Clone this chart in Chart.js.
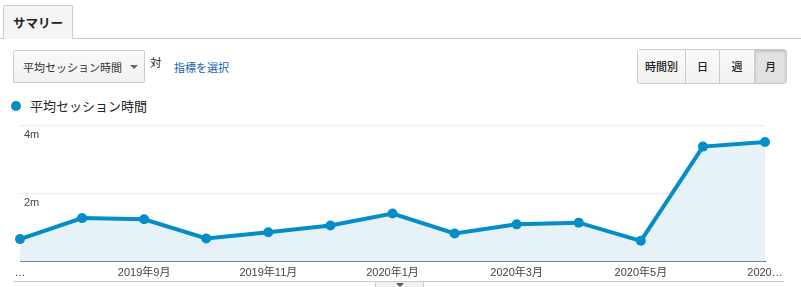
<!DOCTYPE html>
<html>
<head>
<meta charset="utf-8">
<script src="https://cdn.jsdelivr.net/npm/chart.js@4"></script>
<style>
  html, body { margin: 0; padding: 0; background: #fff; }
  body { width: 801px; height: 287px; position: relative; overflow: hidden;
         font-family: "Noto Sans CJK JP", "Noto Sans", sans-serif; color: #333; }
  .topline { position: absolute; left: 0; top: 38px; width: 801px; height: 1px; background: #ccc; }
  .tab { position: absolute; left: 3px; top: 5px; width: 68px; height: 33px; background: #f5f5f5;
         border: 1px solid #ccc; border-bottom: none; border-radius: 2px 2px 0 0;
         font-size: 12.5px; font-weight: bold; line-height: 33px; text-align: center; color: #222; z-index: 2; }
  .dropdown { position: absolute; left: 13px; top: 50px; width: 132px; height: 33px;
              border: 1px solid #ccc; border-radius: 2px; background: linear-gradient(#fafafa, #f1f1f1);
              font-size: 11px; line-height: 33px; color: #333; box-sizing: border-box; padding-left: 9px; }
  .dropdown .arrow { position: absolute; left: 116px; top: 14px; width: 0; height: 0;
                     border-left: 4px solid transparent; border-right: 4px solid transparent; border-top: 4px solid #666; }
  .vs { position: absolute; left: 150px; top: 54px; font-size: 11.5px; color: #222; }
  .link { position: absolute; left: 174px; top: 59px; font-size: 11px; color: #1a62b0; }
  .btns { position: absolute; left: 637px; top: 49px; height: 35px; display: flex;
          border: 1px solid #ccc; border-radius: 3px; box-sizing: border-box; overflow: hidden; }
  .btns div { height: 33px; line-height: 33px; text-align: center; font-size: 11px; font-weight: 500; color: #222;
              background: linear-gradient(#fbfbfb, #f1f1f1); border-right: 1px solid #ccc; }
  .btns div:last-child { border-right: none; background: #e2e2e2; box-shadow: inset 0 1px 3px rgba(0,0,0,0.2); }
  .legend { position: absolute; left: 11px; top: 96px; font-size: 13px; color: #222; line-height: 20px; }
  .legend .dot { display: inline-block; width: 10px; height: 10px; border-radius: 50%; background: #058dc7;
                 margin-right: 9px; vertical-align: -0px; }
  .chartbox { position: absolute; left: 0; top: 115px; width: 801px; height: 170px; }
  .bottomline { position: absolute; left: 13px; top: 281px; width: 771px; height: 1px; background: #ccc; }
  .handle { position: absolute; left: 375px; top: 281px; width: 49px; height: 8px; background: #f1f1f1;
            border: 1px solid #ccc; box-sizing: border-box; }
  .handle .arrow { position: absolute; left: 20px; top: 1px; width: 0; height: 0;
                   border-left: 4px solid transparent; border-right: 4px solid transparent; border-top: 4px solid #555; }
</style>
</head>
<body>
<div class="topline"></div>
<div class="tab">サマリー</div>
<div class="dropdown">平均セッション時間<span class="arrow"></span></div>
<div class="vs">対</div>
<div class="link">指標を選択</div>
<div class="btns"><div style="width:47px">時間別</div><div style="width:33px">日</div><div style="width:34px">週</div><div style="width:31px">月</div></div>
<div class="legend"><span class="dot"></span>平均セッション時間</div>
<div class="chartbox"><canvas id="c" width="801" height="170"></canvas></div>
<div class="bottomline"></div>
<div class="handle"><span class="arrow"></span></div>
<script>
const categories = ['2019年7月','2019年8月','2019年9月','2019年10月','2019年11月','2019年12月','2020年1月','2020年2月','2020年3月','2020年4月','2020年5月','2020年6月','2020年7月'];
const avgSessionSeconds = [40, 77, 75, 41, 52, 64, 85, 50, 66, 69, 37, 203, 211];
const tickLabels = ['…','','2019年9月','','2019年11月','','2020年1月','','2020年3月','','2020年5月','','2020…'];
const yTickLabels = { 120: '2m', 240: '4m' };

new Chart(document.getElementById('c'), {
  type: 'line',
  data: {
    labels: categories,
    datasets: [{
      label: '平均セッション時間',
      data: avgSessionSeconds,
      borderColor: '#058dc7',
      backgroundColor: '#e7f2f8',
      borderWidth: 4,
      fill: 'origin',
      tension: 0,
      pointRadius: 5,
      pointHoverRadius: 5,
      pointBackgroundColor: '#058dc7',
      pointBorderColor: '#058dc7',
      pointBorderWidth: 0,
      clip: false
    }]
  },
  options: {
    responsive: false,
    animation: false,
    events: [],
    layout: { padding: { left: 12, right: 36, top: 10, bottom: 0 } },
    plugins: { legend: { display: false }, tooltip: { enabled: false } },
    scales: {
      x: {
        grid: { display: false, drawTicks: false },
        border: { color: '#333', width: 1 },
        ticks: {
          autoSkip: false, maxRotation: 0, padding: 5,
          color: '#444', font: { family: 'Arial, "Noto Sans CJK JP"', size: 11 },
          callback: (v, i) => tickLabels[i]
        }
      },
      y: {
        min: 0, max: 240,
        grid: { color: '#ebebeb', drawTicks: false },
        border: { display: false },
        ticks: {
          stepSize: 120, mirror: true, padding: 4, labelOffset: 9,
          color: '#444', font: { family: 'Arial', size: 11 },
          callback: (v) => yTickLabels[v] || ''
        }
      }
    }
  }
});
</script>
</body>
</html>
